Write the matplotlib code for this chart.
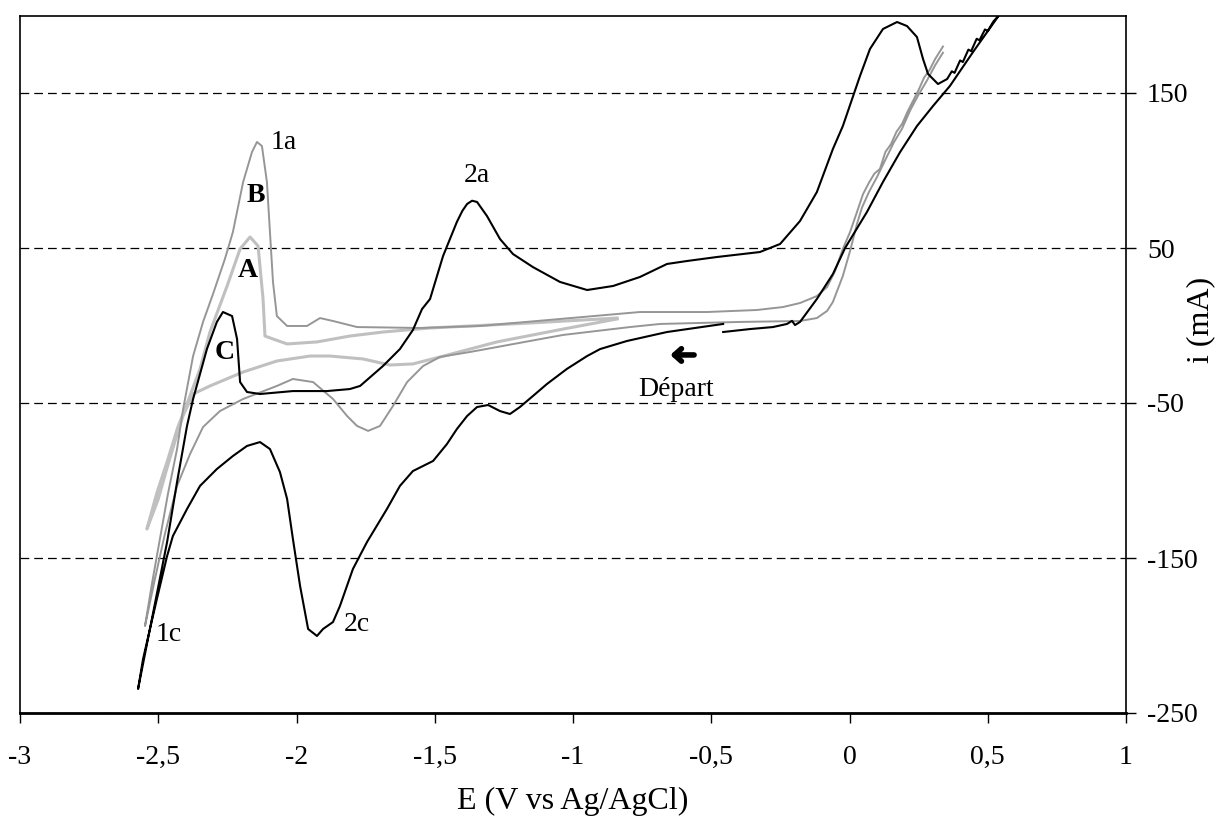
import matplotlib
matplotlib.use('Agg')
from matplotlib import pyplot as plt

# voltammogramme C (noir) : départ vers -0,45 V, balayage cathodique puis anodique
E_C = [-0.457, -0.660, -0.805, -0.902, -0.949, -1.022, -1.094, -1.145, -1.192, -1.228,
       -1.264, -1.307, -1.347, -1.383, -1.420, -1.456, -1.506, -1.579, -1.626, -1.673,
       -1.745, -1.796, -1.843, -1.868, -1.904, -1.926, -1.958, -1.987, -2.013, -2.034,
       -2.060, -2.096, -2.132, -2.179, -2.230, -2.288, -2.349, -2.396, -2.447, -2.468,
       -2.505, -2.530, -2.555, -2.573,
       -2.468, -2.432, -2.396, -2.374, -2.324, -2.288, -2.266, -2.233, -2.215, -2.204,
       -2.179, -2.132, -2.013, -1.890, -1.807, -1.770, -1.687, -1.626, -1.579, -1.546,
       -1.517, -1.470, -1.420, -1.400, -1.383, -1.365, -1.347, -1.311, -1.264, -1.217, -1.145, -1.047,
       -0.949, -0.855, -0.758, -0.660, -0.588, -0.479, -0.324, -0.251, -0.179, -0.118,
       -0.060, -0.024, 0.038, 0.074, 0.121, 0.172, 0.208, 0.244, 0.266, 0.284,
       0.320, 0.353, 0.370, 0.380, 0.400, 0.410, 0.430, 0.440, 0.460, 0.470,
       0.490, 0.500, 0.520, 0.544,
       0.447, 0.363, 0.302, 0.244, 0.183, 0.121, 0.063, -0.016, -0.060, -0.118,
       -0.179, -0.197, -0.208, -0.226, -0.277, -0.360, -0.457]
i_C = [1.0, -4.2, -10.0, -15.2, -19.7, -28.0, -37.7, -45.5, -52.6, -57.1,
       -55.2, -51.3, -52.6, -58.4, -66.8, -76.5, -87.4, -93.9, -103.5, -118.4,
       -139.7, -157.1, -181.0, -191.3, -195.8, -200.3, -195.8, -168.1, -137.7, -111.9,
       -94.5, -79.7, -75.2, -77.7, -84.2, -92.6, -103.5, -118.4, -135.8, -148.7,
       -176.5, -195.8, -215.2, -234.5,
       -139.7, -101.0, -64.8, -47.4, -15.2, 2.3, 8.7, 6.1, -8.7, -36.5,
       -42.9, -44.2, -42.3, -42.3, -41.0, -39.0, -26.1, -15.2, -2.9, 10.6,
       17.1, 44.8, 66.8, 74.0, 78.4, 80.5, 79.7, 70.6, 55.8, 46.1, 37.7, 28.1,
       22.9, 25.5, 31.3, 39.7, 41.6, 44.2, 47.4, 52.6, 67.4, 86.1,
       113.9, 128.7, 161.0, 178.4, 191.3, 195.8, 193.2, 186.1, 171.9, 162.3,
       155.8, 159.0, 164.0, 163.0, 171.0, 170.0, 178.0, 177.0, 185.0, 184.0,
       191.0, 190.0, 196.0, 201.0,
       176.5, 154.5, 141.6, 128.7, 111.9, 92.6, 73.2, 50.0, 33.2, 17.1,
       2.3, 0.3, 3.0, 1.0, -1.0, -2.3, -4.2]

# voltammogramme B (gris moyen)
E_B = [0.338, 0.31, 0.28, 0.25, 0.22, 0.19, 0.16, 0.13, 0.10, 0.07,
       0.045, 0.027, 0.002, -0.024, -0.060, -0.081, -0.118, -0.179, -0.396, -0.685,
       -0.794, -0.913, -1.036, -1.156, -1.275, -1.373, -1.481, -1.542, -1.600, -1.651,
       -1.698, -1.741, -1.781, -1.817, -1.868, -1.940, -2.013, -2.071, -2.193, -2.277,
       -2.338, -2.385, -2.432, -2.476, -2.512, -2.548,
       -2.523, -2.494, -2.465, -2.432, -2.410, -2.374, -2.338, -2.302, -2.259, -2.230,
       -2.193, -2.161, -2.143, -2.125, -2.107, -2.096, -2.085, -2.071, -2.034, -1.962,
       -1.915, -1.868, -1.781, -1.553, -1.336, -1.047, -0.758, -0.515, -0.335, -0.241,
       -0.179, -0.118, -0.081, -0.052, -0.024, 0.002, 0.027, 0.049, 0.07, 0.09,
       0.11, 0.13, 0.15, 0.17, 0.19, 0.21, 0.23, 0.25, 0.27, 0.29,
       0.31, 0.338]
i_B = [176.0, 168.0, 158.0, 149.0, 139.0, 127.0, 118.0, 107.0, 96.0, 86.0,
       76.0, 65.5, 48.1, 32.0, 15.2, 9.4, 4.8, 2.9, 2.3, 1.0,
       -1.0, -3.5, -6.1, -10.0, -13.9, -17.1, -20.3, -26.1, -36.5, -51.9,
       -64.8, -68.0, -64.8, -58.4, -47.4, -36.5, -34.5, -39.0, -47.4, -55.2,
       -65.5, -82.9, -103.5, -134.5, -163.5, -193.9,
       -166.8, -137.7, -108.7, -79.7, -53.9, -19.7, 2.3, 20.3, 42.9, 60.3,
       92.6, 111.9, 118.4, 115.8, 92.6, 60.3, 28.0, 6.1, -0.3, -0.3,
       4.8, 2.9, -1.0, -1.6, -0.3, 4.2, 8.7, 8.7, 10.0, 11.9,
       14.5, 19.0, 24.8, 35.2, 49.4, 60.3, 73.2, 84.8, 92.0, 98.0,
       101.0, 112.0, 117.0, 125.0, 130.0, 138.0, 145.0, 152.0, 160.0, 165.0,
       172.0, 180.0]

# voltammogramme A (gris clair), entre -0,84 et -2,54 V
E_A = [-0.841, -1.036, -1.275, -1.481, -1.579, -1.662, -1.759, -1.879, -1.951, -2.071,
       -2.193, -2.313, -2.374, -2.410, -2.440, -2.470, -2.500, -2.541,
       -2.505, -2.468, -2.430, -2.395, -2.349, -2.313, -2.251, -2.204, -2.168, -2.139,
       -2.121, -2.114, -2.085, -2.034, -1.926, -1.807, -1.687, -1.517, -1.156, -0.841]
i_A = [4.2, -2.3, -10.6, -20.3, -24.8, -25.5, -21.6, -19.7, -19.7, -22.9,
       -30.0, -39.0, -44.2, -58.0, -75.0, -93.0, -112.0, -131.3,
       -108.0, -88.0, -66.0, -50.0, -28.1, -4.2, 25.5, 49.4, 57.1, 51.3,
       17.1, -6.8, -8.7, -11.9, -10.6, -6.8, -4.2, -1.6, 1.6, 4.8]

x_ticks = [-3, -2.5, -2, -1.5, -1, -0.5, 0, 0.5, 1]
x_labels = ['-3', '-2,5', '-2', '-1,5', '-1', '-0,5', '0', '0,5', '1']
y_ticks = [-250, -150, -50, 50, 150]

plt.rcParams['font.family'] = ['Liberation Serif', 'DejaVu Serif']
plt.rcParams['axes.unicode_minus'] = False

fig = plt.figure(figsize=(12.16, 8.19), dpi=100)
ax = fig.add_axes([20/1216, 1-713/819, 1106/1216, 697.5/819])

ax.plot(E_A, i_A, color='#c0c0c0', lw=2.2, zorder=2)
ax.plot(E_B, i_B, color='#969696', lw=1.4, zorder=3)
ax.plot(E_C, i_C, color='black', lw=1.5, zorder=4)

ax.set_xlim(-3, 1)
ax.set_ylim(-250, 200)
ax.set_xticks(x_ticks)
ax.set_xticklabels(x_labels)
ax.set_yticks(y_ticks)
ax.yaxis.tick_right()
ax.tick_params(axis='x', direction='out', length=7, width=1, pad=16, labelsize=20)
ax.tick_params(axis='y', direction='out', length=7, width=1, pad=8, labelsize=20)
ax.grid(True, axis='y', color='black', linestyle=(0, (7, 4)), linewidth=0.9, zorder=0)
ax.set_axisbelow(True)

for s in ['left', 'top', 'right']:
	ax.spines[s].set_linewidth(1.2)
ax.spines['bottom'].set_linewidth(2)

ax.set_xlabel('E (V vs Ag/AgCl)', fontsize=23, labelpad=12)
ax.yaxis.set_label_position('right')
ax.set_ylabel('i (mA)', fontsize=23)
ax.yaxis.set_label_coords(1.054, 0.563)

# annotations des pics
ax.text(-2.045, 113.9, '1a', fontsize=20, ha='center', va='baseline')
ax.text(-2.146, 79.7, 'B', fontsize=20, ha='center', va='baseline', fontweight='bold')
ax.text(-2.175, 31.3, 'A', fontsize=20, ha='center', va='baseline', fontweight='bold')
ax.text(-2.259, -21.6, 'C', fontsize=20, ha='center', va='baseline', fontweight='bold')
ax.text(-1.347, 92.6, '2a', fontsize=20, ha='center', va='baseline')
ax.text(-2.461, -203.5, '1c', fontsize=20, ha='center', va='baseline')
ax.text(-1.781, -197.1, '2c', fontsize=20, ha='center', va='baseline')
ax.text(-0.627, -45.5, 'Départ', fontsize=20, ha='center', va='baseline')
ax.annotate('', xy=(-0.658, -19), xytext=(-0.552, -19),
	arrowprops=dict(arrowstyle='->,head_length=0.5,head_width=0.45', lw=4, color='black'))

plt.savefig('out.png', dpi=100)
